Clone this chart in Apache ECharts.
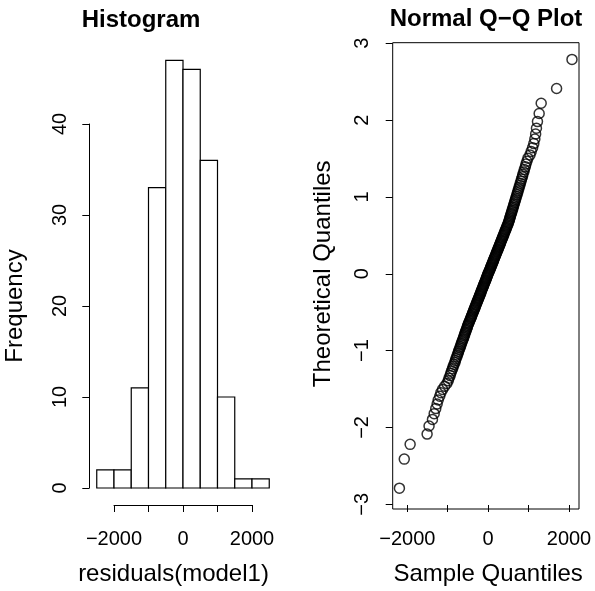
<!DOCTYPE html>
<html><head><meta charset="utf-8">
<script src="https://cdn.jsdelivr.net/npm/echarts@6/dist/echarts.min.js"></script>
<style>html,body{margin:0;padding:0;background:#fff}#c{width:595px;height:591px}</style>
</head><body><div id="c"></div>
<script>
// ---- Histogram of residuals(model1) ----
const binBreaks = [-2500, -2000, -1500, -1000, -500, 0, 500, 1000, 1500, 2000, 2500];
const binCounts = [2, 2, 11, 33, 47, 46, 36, 10, 1, 1];
const histXTicks = [-2000, -1000, 0, 1000, 2000];
const histXLabels = [-2000, 0, 2000];
const histYTicks = [0, 10, 20, 30, 40];

// ---- Normal Q-Q plot ----
const sampleQuantiles = [
  -2195, -2075, -1930, -1510, -1462, -1378, -1335, -1296, -1262, -1236, -1198, -1170, -1128, -1076, -1022,
  -988, -968, -940, -924, -905, -880, -866, -846, -822, -810, -795, -774, -762, -741, -733, -716, -698,
  -688, -670, -661, -644, -634, -617, -604, -596, -580, -572, -561, -544, -536, -521, -512, -503,
  -488, -479, -462, -452, -436, -428, -414, -406, -390, -383, -368, -361, -346, -339, -325, -318, -303,
  -296, -282, -274, -261, -253, -240, -233, -219, -212, -198, -192, -178, -171, -160, -151, -139, -131,
  -118, -111, -99, -91, -78, -70, -58, -50, -39, -31, -20, -11, -4,
  9, 21, 29, 41, 52, 60, 72, 80, 93, 101, 113, 121, 134, 141, 155, 162, 175, 183, 196, 203, 216, 224,
  238, 245, 258, 266, 279, 288, 300, 309, 322, 331, 345, 352, 366, 375, 389, 397, 411, 421, 434, 445,
  458, 469, 482, 495,
  506, 514, 527, 533, 546, 553, 567, 574, 588, 595, 610, 617, 631, 638, 654, 662, 678, 686, 703, 712,
  730, 738, 757, 766, 786, 795, 816, 826, 848, 858, 882, 895, 920, 936, 960, 985,
  1035, 1065, 1100, 1130, 1155, 1175, 1195, 1220, 1262, 1312, 1693, 2074
];
const theoreticalQuantiles = [
  -2.790, -2.412, -2.220, -2.086, -1.981, -1.895, -1.820, -1.754, -1.695, -1.642,
  -1.593, -1.547, -1.505, -1.465, -1.428, -1.392, -1.358, -1.325, -1.294, -1.264,
  -1.235, -1.207, -1.180, -1.153, -1.128, -1.103, -1.079, -1.056, -1.033, -1.010,
  -0.988, -0.967, -0.946, -0.925, -0.905, -0.886, -0.866, -0.847, -0.828, -0.810,
  -0.792, -0.774, -0.756, -0.738, -0.721, -0.704, -0.687, -0.670, -0.654, -0.638,
  -0.621, -0.605, -0.589, -0.573, -0.558, -0.543, -0.527, -0.512, -0.497, -0.482,
  -0.467, -0.453, -0.438, -0.424, -0.409, -0.395, -0.381, -0.366, -0.352, -0.338,
  -0.324, -0.311, -0.297, -0.283, -0.269, -0.256, -0.242, -0.228, -0.215, -0.201,
  -0.188, -0.174, -0.161, -0.147, -0.134, -0.120, -0.107, -0.093, -0.080, -0.066,
  -0.053, -0.040, -0.027, -0.013, 0.000,
  0.013, 0.027, 0.040, 0.053, 0.066, 0.080, 0.093, 0.107, 0.120, 0.134,
  0.147, 0.161, 0.174, 0.188, 0.201, 0.215, 0.228, 0.242, 0.256, 0.269,
  0.283, 0.297, 0.311, 0.324, 0.338, 0.352, 0.366, 0.381, 0.395, 0.409,
  0.424, 0.438, 0.453, 0.467, 0.482, 0.497, 0.512, 0.527, 0.543, 0.558,
  0.573, 0.589, 0.605, 0.621, 0.638, 0.654, 0.670, 0.687, 0.704, 0.721,
  0.738, 0.756, 0.774, 0.792, 0.810, 0.828, 0.847, 0.866, 0.886, 0.905,
  0.925, 0.946, 0.967, 0.988, 1.010, 1.033, 1.056, 1.079, 1.103, 1.128,
  1.153, 1.180, 1.207, 1.235, 1.264, 1.294, 1.325, 1.358, 1.392, 1.428,
  1.465, 1.505, 1.547, 1.593, 1.642, 1.695, 1.754, 1.820, 1.895, 1.981,
  2.086, 2.220, 2.412, 2.790
];
const qqXTicks = [-2000, -1000, 0, 1000, 2000];
const qqXLabels = [-2000, 0, 2000];
const qqYTicks = [-3, -2, -1, 0, 1, 2, 3];

const FONT = "'Liberation Sans', Arial, Helvetica, sans-serif";
const INK = '#000';
const fmt = v => (v < 0 ? '\u2212' + Math.abs(v) : String(v));
const fmtOnly = list => v => (list.indexOf(v) >= 0 ? fmt(v) : '');

const histData = binCounts.map((c, i) => [binBreaks[i], binBreaks[i + 1], c]);
const qqData = sampleQuantiles.map((s, i) => [s, theoreticalQuantiles[i]]);

const tickStyle = { show: true, length: 7, inside: false, lineStyle: { color: INK, width: 1 } };
const labelBase = { color: INK, fontFamily: FONT, fontSize: 20, hideOverlap: false, showMinLabel: true, showMaxLabel: true };

const chart = echarts.init(document.getElementById('c'), null, { renderer: 'canvas' });
chart.setOption({
  animation: false,
  backgroundColor: '#fff',
  grid: [
    { left: 114, top: 124, width: 138, height: 368 },
    { left: 407.3, top: 43.3, width: 161.7, height: 465 },
    { left: 392.7, top: 42.7, width: 186.3, height: 466.3, show: true, borderColor: INK, borderWidth: 1, backgroundColor: 'transparent' }
  ],
  xAxis: [
    { gridIndex: 0, type: 'value', min: histXTicks[0], max: histXTicks[histXTicks.length - 1], interval: 1000,
      offset: 17, axisLine: { show: true, onZero: false, lineStyle: { color: INK, width: 1 } },
      axisTick: tickStyle, splitLine: { show: false },
      axisLabel: Object.assign({ margin: 24, formatter: fmtOnly(histXLabels) }, labelBase),
      name: 'residuals(model1)', nameLocation: 'middle', nameGap: 57,
      nameTextStyle: { color: INK, fontFamily: FONT, fontSize: 24, padding: [0, 19, 0, 0] } },
    { gridIndex: 1, type: 'value', min: qqXTicks[0], max: qqXTicks[qqXTicks.length - 1], interval: 1000,
      offset: 0.7, axisLine: { show: false, onZero: false },
      axisTick: tickStyle, splitLine: { show: false },
      axisLabel: Object.assign({ margin: 24, formatter: fmtOnly(qqXLabels) }, labelBase),
      name: 'Sample Quantiles', nameLocation: 'middle', nameGap: 57,
      nameTextStyle: { color: INK, fontFamily: FONT, fontSize: 24 } },
    { gridIndex: 2, type: 'value', show: false, min: 0, max: 1 }
  ],
  yAxis: [
    { gridIndex: 0, type: 'value', min: histYTicks[0], max: histYTicks[histYTicks.length - 1], interval: 10,
      offset: 24.7, axisLine: { show: true, onZero: false, lineStyle: { color: INK, width: 1 } },
      axisTick: tickStyle, splitLine: { show: false },
      axisLabel: Object.assign({ margin: 19, rotate: 90, formatter: fmt }, labelBase),
      name: 'Frequency', nameLocation: 'middle', nameGap: 62,
      nameTextStyle: { color: INK, fontFamily: FONT, fontSize: 24 } },
    { gridIndex: 1, type: 'value', min: qqYTicks[0], max: qqYTicks[qqYTicks.length - 1], interval: 1,
      offset: 14.6, axisLine: { show: false, onZero: false },
      axisTick: tickStyle, splitLine: { show: false },
      axisLabel: Object.assign({ margin: 20, rotate: 90, formatter: fmt }, labelBase),
      name: 'Theoretical Quantiles', nameLocation: 'middle', nameGap: 57,
      nameTextStyle: { color: INK, fontFamily: FONT, fontSize: 24 } },
    { gridIndex: 2, type: 'value', show: false, min: 0, max: 1 }
  ],
  graphic: [
    { type: 'text', x: 141, y: 20, style: { text: 'Histogram', align: 'center', verticalAlign: 'middle',
      fill: INK, fontFamily: FONT, fontSize: 24, fontWeight: 'bold' } },
    { type: 'text', x: 486, y: 19, style: { text: 'Normal Q\u2212Q Plot', align: 'center', verticalAlign: 'middle',
      fill: INK, fontFamily: FONT, fontSize: 24, fontWeight: 'bold' } }
  ],
  series: [
    { type: 'custom', xAxisIndex: 0, yAxisIndex: 0, clip: false, data: histData,
      encode: { x: [0, 1], y: 2 },
      renderItem: (params, api) => {
        const p0 = api.coord([api.value(0), 0]);
        const p1 = api.coord([api.value(1), api.value(2)]);
        return { type: 'rect',
          shape: { x: p0[0], y: p1[1], width: p1[0] - p0[0], height: p0[1] - p1[1] },
          style: { fill: '#fff', stroke: INK, lineWidth: 1.2 } };
      } },
    { type: 'scatter', xAxisIndex: 1, yAxisIndex: 1, clip: false, data: qqData,
      symbol: 'circle', symbolSize: 10,
      itemStyle: { color: 'rgba(0,0,0,0)', borderColor: INK, borderWidth: 1.5 } }
  ]
});
</script></body></html>
